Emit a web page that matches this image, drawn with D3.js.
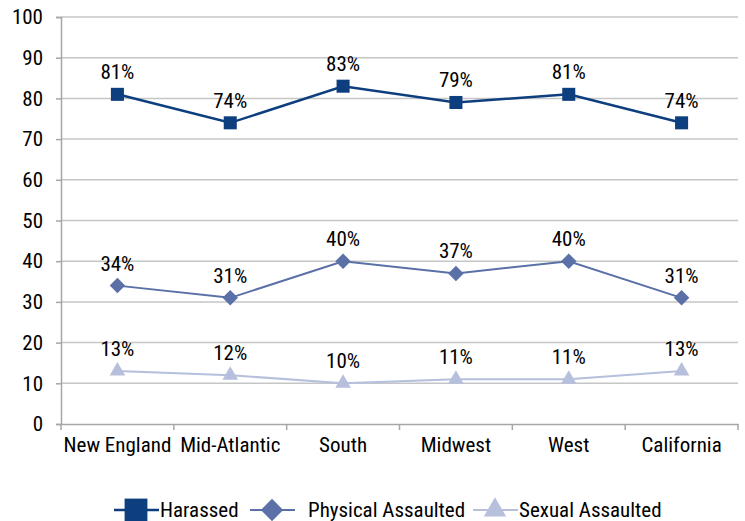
<!DOCTYPE html>
<html>
<head>
<meta charset="utf-8">
<script src="https://cdn.jsdelivr.net/npm/d3@7"></script>
<style>
  body { margin: 0; background: #fff; }
  text { font-family: "Liberation Sans Narrow", "Arial Narrow", "Roboto Condensed", sans-serif; fill: #000; }
  .grid line { stroke: #c6c6c6; stroke-width: 1.5; }
  .axis path, .axis line { stroke: #a6a6a6; stroke-width: 1.5; }
</style>
</head>
<body>
<svg id="chart" width="745" height="521"></svg>
<script>
const regions = ["New England", "Mid-Atlantic", "South", "Midwest", "West", "California"];
const harassed = [81, 74, 83, 79, 81, 74];
const physical = [34, 31, 40, 37, 40, 31];
const sexual = [13, 12, 10, 11, 11, 13];
const yTicks = [0, 10, 20, 30, 40, 50, 60, 70, 80, 90, 100];

// diamond = square turned 45 degrees
const series = [
  { name: "Harassed", values: harassed, color: "#0d3e7d", shape: d3.symbolSquare, rot: 0, size: 170, lsize: 520, width: 2.5, legendX: 114, textX: 46 },
  { name: "Physical Assaulted", values: physical, color: "#5a70a6", shape: d3.symbolSquare, rot: 45, size: 120, lsize: 250, width: 2, legendX: 250, textX: 58 },
  { name: "Sexual Assaulted", values: sexual, color: "#b6bfdc", shape: d3.symbolTriangle, rot: 0, size: 105, lsize: 215, width: 2, legendX: 473, textX: 46 }
];

const margin = { top: 17, right: 7, bottom: 97, left: 61 },
  width = 745 - margin.left - margin.right,
  height = 521 - margin.top - margin.bottom;

const svg = d3.select("#chart")
  .append("g")
  .attr("transform", "translate(" + margin.left + "," + margin.top + ")");

const x = d3.scaleBand().domain(regions).range([0, width]);
const y = d3.scaleLinear().domain([0, 100]).range([height, 0]);

// gridlines
svg.append("g")
  .attr("class", "grid")
  .selectAll("line")
  .data(yTicks.filter(d => d > 0))
  .join("line")
  .attr("x1", 0).attr("x2", width)
  .attr("y1", d => y(d)).attr("y2", d => y(d));

// y axis
const yAxis = svg.append("g")
  .attr("class", "axis")
  .call(d3.axisLeft(y).tickValues(yTicks).tickSize(5).tickPadding(13));
yAxis.selectAll("text").style("font-size", "21px");

// x axis
const xAxis = svg.append("g")
  .attr("class", "axis")
  .attr("transform", "translate(0," + height + ")")
  .call(d3.axisBottom(x).tickSize(0).tickPadding(12));
xAxis.selectAll("text").style("font-size", "21px").attr("dy", "0.75em");
xAxis.selectAll(".bnd")
  .data(d3.range(regions.length + 1))
  .join("line")
  .attr("class", "bnd")
  .attr("x1", i => i * x.bandwidth()).attr("x2", i => i * x.bandwidth())
  .attr("y1", 0).attr("y2", 6);

const line = d3.line()
  .x((d, i) => x(regions[i]) + x.bandwidth() / 2)
  .y(d => y(d));

series.forEach(function (s) {
  svg.append("path")
    .attr("d", line(s.values))
    .attr("fill", "none")
    .attr("stroke", s.color)
    .attr("stroke-width", s.width);

  svg.selectAll(null)
    .data(s.values)
    .join("path")
    .attr("transform", (d, i) => "translate(" + (x(regions[i]) + x.bandwidth() / 2) + "," + y(d) + ") rotate(" + s.rot + ")")
    .attr("d", d3.symbol().type(s.shape).size(s.size))
    .attr("fill", s.color);

  svg.selectAll(null)
    .data(s.values)
    .join("text")
    .attr("x", (d, i) => x(regions[i]) + x.bandwidth() / 2)
    .attr("y", d => y(d) - 15)
    .attr("text-anchor", "middle")
    .style("font-size", "21px")
    .text(d => d + "%");
});

// legend
const legend = d3.select("#chart").append("g");
series.forEach(function (s) {
  const ly = 510;
  legend.append("line")
    .attr("x1", s.legendX).attr("x2", s.legendX + 45)
    .attr("y1", ly).attr("y2", ly)
    .attr("stroke", s.color).attr("stroke-width", s.width);
  legend.append("path")
    .attr("transform", "translate(" + (s.legendX + 22) + "," + ly + ") rotate(" + s.rot + ")")
    .attr("d", d3.symbol().type(s.shape).size(s.lsize))
    .attr("fill", s.color);
  legend.append("text")
    .attr("x", s.legendX + s.textX)
    .attr("y", ly)
    .attr("dy", "0.35em")
    .style("font-size", "21px")
    .text(s.name);
});
</script>
</body>
</html>
